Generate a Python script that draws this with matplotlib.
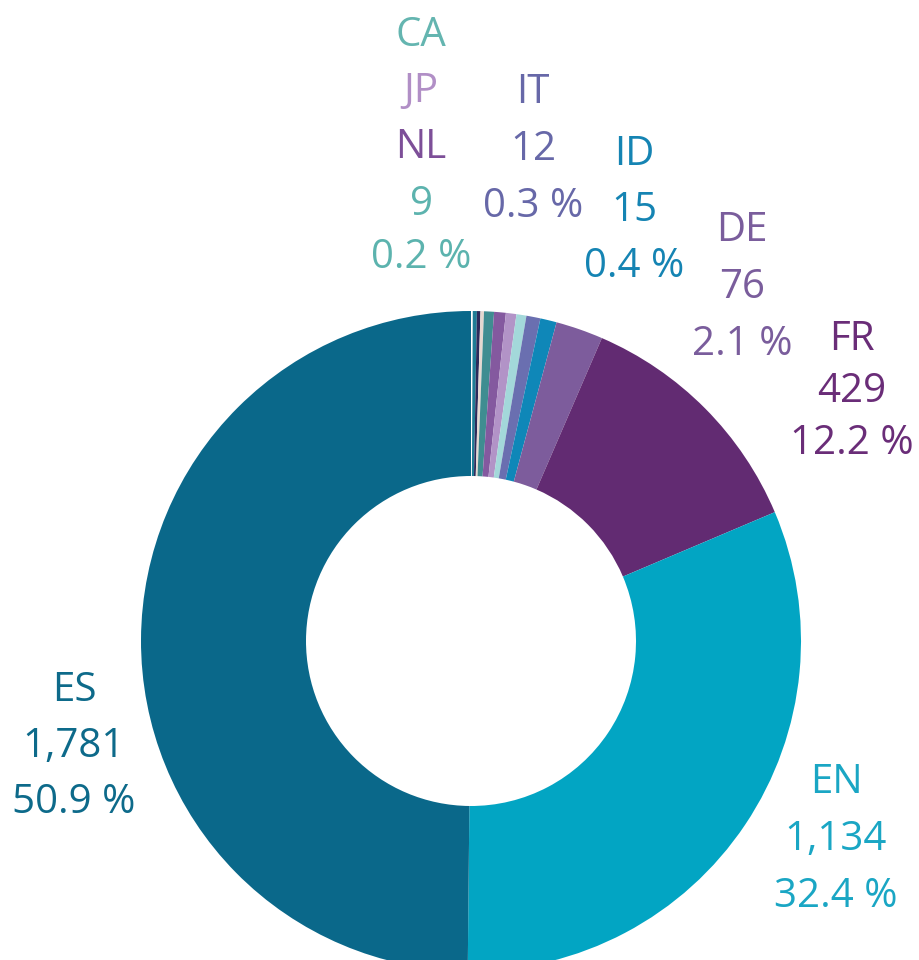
"""Donut: distribución por idioma."""

import matplotlib
matplotlib.use("Agg")
import matplotlib.pyplot as plt

# porciones en sentido horario desde las 12 (tamaño tal como se ve dibujado)
idiomas = ["", "", "", "", "", "NL", "JP", "CA", "IT", "ID", "DE", "FR", "EN", "ES"]
tamanos = [3, 7, 6, 6, 17, 20, 18, 17, 24, 28, 81, 424, 1103, 1743]
colores = [
    "#ffffff", "#1e7c95", "#2d2a5a", "#e5d8d0", "#3f8d91", "#84599f", "#b293c7",
    "#a3d8da", "#6a6fb0", "#0f87b8", "#7d5c9c", "#622b72", "#02a5c3", "#0a688a",
]

# textos de las etiquetas
codigos = ["ES", "EN", "FR", "DE", "ID", "IT"]
conteos = ["1,781", "1,134", "429", "76", "15", "12"]
porcentajes = ["50.9 %", "32.4 %", "12.2 %", "2.1 %", "0.4 %", "0.3 %"]
colores_txt = ["#0d6a8a", "#1aa6c4", "#6a2d78", "#7a5d9c", "#1584b3", "#6768a8"]
pos_txt = [(74, 691), (836, 783), (852, 340), (742, 231), (634, 155), (533, 93)]
pasos = [56, 57, 52, 57, 56, 57]

pila_izq = ["CA", "JP", "NL", "9", "0.2 %"]
colores_pila = ["#64b5b0", "#b18fc6", "#7d4f98", "#5cb3ae", "#5cb3ae"]
ys_pila = [36, 92, 148, 205, 258]

W, H = 919, 960
fig = plt.figure(figsize=(W / 100, H / 100), dpi=100)
ax = fig.add_axes([0, 0, 1, 1])

cx, cy, R = 471, H - 641, 330
ax.pie(
    tamanos, colors=colores, startangle=90, counterclock=False,
    radius=R, center=(cx, cy),
    wedgeprops=dict(width=R * 0.5, linewidth=0),
)

ax.set_xlim(0, W)
ax.set_ylim(0, H)
ax.set_aspect("equal")
ax.axis("off")

fuente = dict(family=["Open Sans", "DejaVu Sans"], fontsize=29, ha="center", va="center")

for cod, n, pct, color, (x, y), paso in zip(
    codigos, conteos, porcentajes, colores_txt, pos_txt, pasos
):
    for i, txt in enumerate([cod, n, pct]):
        ax.text(x, H - (y + i * paso), txt, color=color, **fuente)

for txt, color, y in zip(pila_izq, colores_pila, ys_pila):
    ax.text(421, H - y, txt, color=color, **fuente)

fig.savefig("out.png", dpi=100)
plt.close(fig)
